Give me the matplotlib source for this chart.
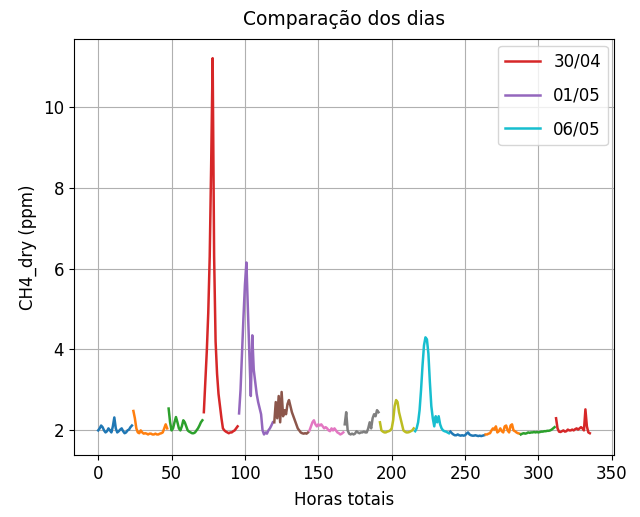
import numpy as np
from matplotlib import pyplot as plt

# CH4_dry (ppm), one list per day, hourly values
d0 = [2.0, 2.05, 2.12, 2.08, 2.0, 1.95, 1.98, 2.05, 2.0, 1.95, 2.1, 2.32,
      2.05, 1.95, 1.98, 2.02, 2.05, 1.98, 1.93, 1.95, 2.0, 2.02, 2.08, 2.12]
d1 = [2.48, 2.3, 2.05, 1.95, 1.93, 2.0, 1.95, 1.92, 1.93, 1.92, 1.9, 1.92,
      1.92, 1.9, 1.9, 1.92, 1.9, 1.9, 1.92, 1.93, 1.95, 2.05, 2.15, 2.05]
d2 = [2.54, 2.2, 2.0, 2.05, 2.2, 2.33, 2.2, 2.05, 2.0, 2.1, 2.25, 2.2,
      2.1, 2.0, 1.97, 1.95, 1.93, 1.93, 1.95, 2.0, 2.05, 2.12, 2.2, 2.25]
d3 = [2.45, 3.2, 3.95, 4.9, 6.3, 8.6, 11.2, 6.3, 4.2, 3.4, 2.9, 2.6,
      2.3, 2.05, 2.0, 1.97, 1.95, 1.93, 1.95, 1.95, 1.98, 2.0, 2.05, 2.1]
d4 = [2.42, 3.0, 3.9, 4.8, 5.6, 6.15, 5.0, 3.9, 2.85, 4.35, 3.5, 3.2,
      2.9, 2.7, 2.55, 2.4, 2.0, 1.9, 1.95, 1.92, 2.0, 2.05, 2.12, 2.2]
d5 = [2.2, 2.7, 2.3, 2.85, 2.2, 2.95, 2.35, 2.5, 2.4, 2.65, 2.75, 2.6,
      2.45, 2.35, 2.25, 2.15, 2.05, 2.0, 1.95, 1.93, 1.92, 1.93, 1.92, 1.95]
d6 = [2.0, 2.1, 2.2, 2.25, 2.15, 2.1, 2.15, 2.12, 2.15, 2.1, 2.05, 2.08,
      2.05, 2.0, 1.98, 2.05, 2.0, 2.05, 2.0, 1.95, 1.93, 1.9, 1.92, 1.95]
d7 = [2.15, 2.45, 2.0, 1.92, 1.9, 1.92, 1.9, 1.92, 1.98, 1.95, 1.93, 1.95,
      1.95, 1.97, 1.95, 1.95, 2.05, 2.2, 2.05, 2.3, 2.4, 2.35, 2.5, 2.45]
d8 = [2.2, 2.0, 1.97, 1.95, 1.95, 1.97, 1.98, 2.0, 2.05, 2.25, 2.6, 2.75,
      2.7, 2.45, 2.3, 2.15, 2.0, 1.97, 1.95, 1.95, 1.96, 1.98, 2.0, 2.05]
d9 = [1.98, 2.05, 2.2, 2.5, 3.0, 3.6, 4.1, 4.3, 4.25, 3.9, 3.2, 2.6,
      2.3, 2.1, 2.35, 2.2, 2.35, 2.15, 2.05, 2.0, 1.98, 1.97, 1.95, 1.93]
d10 = [1.97, 1.93, 1.9, 1.88, 1.88, 1.9, 1.88, 1.87, 1.88, 1.87, 1.88, 1.92,
       1.95, 1.9, 1.88, 1.87, 1.87, 1.88, 1.87, 1.86, 1.87, 1.86, 1.87, 1.88]
d11 = [1.9, 1.9, 1.92, 1.93, 2.0, 2.05, 2.02, 2.1, 1.95, 1.98, 2.05, 1.98,
       1.95, 2.1, 2.12, 2.0, 1.95, 2.12, 2.15, 2.0, 1.98, 1.95, 1.93, 1.92]
d12 = [1.9, 1.92, 1.93, 1.92, 1.93, 1.95, 1.94, 1.95, 1.95, 1.96, 1.95, 1.96,
       1.95, 1.96, 1.97, 1.97, 1.98, 1.98, 1.99, 1.99, 2.0, 2.02, 2.05, 2.08]
d13 = [2.3, 2.05, 1.97, 1.96, 1.98, 2.0, 1.97, 1.98, 2.02, 2.0, 2.0, 2.02,
       2.0, 2.03, 2.05, 2.02, 2.05, 2.08, 2.05, 2.0, 2.52, 2.1, 1.95, 1.93]

days = [d0, d1, d2, d3, d4, d5, d6, d7, d8, d9, d10, d11, d12, d13]
labels = {3: '30/04', 4: '01/05', 9: '06/05'}

fig, ax = plt.subplots(figsize=(6.4, 5.17), dpi=100)
fig.subplots_adjust(left=0.115, right=0.96, top=0.924, bottom=0.12)

for i, d in enumerate(days):
    horas = np.arange(len(d)) + 24 * i
    ax.plot(horas, d, lw=1.8, label=labels.get(i, '_nolegend_'))

ax.set_title('Comparação dos dias', fontsize=13.5, pad=10)
ax.set_xlabel('Horas totais', fontsize=12, labelpad=6)
ax.set_ylabel('CH4_dry (ppm)', fontsize=12)
ax.tick_params(labelsize=12)
ax.grid(True)
ax.legend(loc='upper right', fontsize=12, labelspacing=0.95,
          handlelength=2.1, borderaxespad=0.4)

fig.savefig('out.png')
